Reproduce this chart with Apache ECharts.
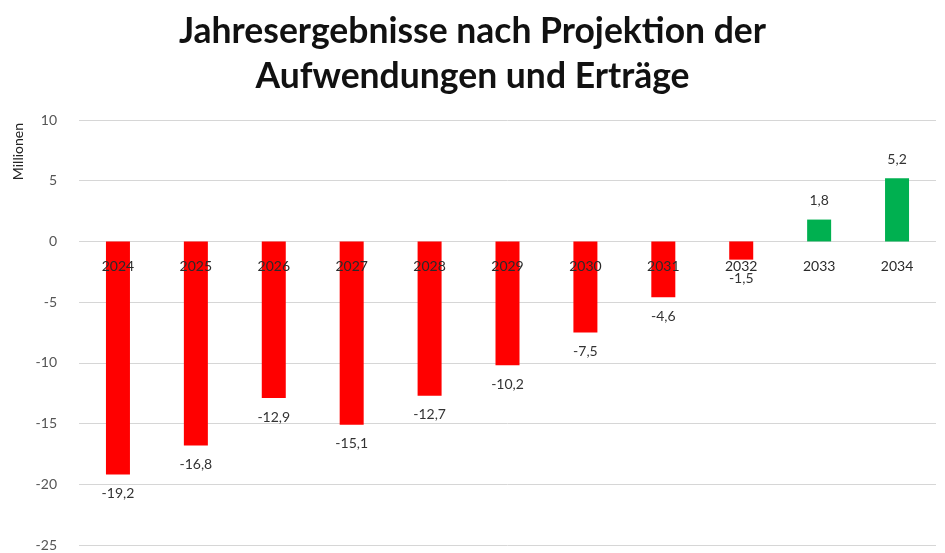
<!DOCTYPE html>
<html><head><meta charset="utf-8">
<script src="https://cdn.jsdelivr.net/npm/echarts@6/dist/echarts.min.js"></script>
<style>html,body{margin:0;padding:0;background:#fff}#c{width:945px;height:553px}</style>
</head><body><div id="c"></div>
<script>
const categories = ['2024','2025','2026','2027','2028','2029','2030','2031','2032','2033','2034'];
const values = [-19.2, -16.8, -12.9, -15.1, -12.7, -10.2, -7.5, -4.6, -1.5, 1.8, 5.2];
const titleText = 'Jahresergebnisse nach Projektion der\nAufwendungen und Erträge';
const yAxisName = 'Millionen';
const FONT = 'Lato, "Open Sans", sans-serif';

const chart = echarts.init(document.getElementById('c'));
chart.setOption({
  backgroundColor: '#fff',
  animation: false,
  title: {
    text: titleText, left: 'center', top: 4,
    textStyle: { fontFamily: FONT, fontWeight: 'bold', fontSize: 35.5, lineHeight: 45, color: '#111' }
  },
  graphic: [{
    type: 'text', left: 11, top: 123, rotation: Math.PI/2,
    style: { text: yAxisName, font: '14px ' + FONT, fill: '#222' }
  }],
  grid: { left: 79, right: 9, top: 120, bottom: 8, containLabel: false, outerBoundsMode: 'none' },
  xAxis: {
    type: 'category', data: categories,
    axisLine: { show: false }, axisTick: { show: false }, axisLabel: { show: false }
  },
  yAxis: {
    type: 'value', min: -25, max: 10, interval: 5,
    axisLine: { show: false }, axisTick: { show: false },
    axisLabel: { margin: 22, fontFamily: FONT, fontSize: 14, color: '#555' },
    splitLine: { lineStyle: { color: '#d6d6d6', width: 1 } }
  },
  series: [{
    type: 'bar', barWidth: 24, z: 2,
    data: values.map(v => ({
      value: v,
      itemStyle: { color: v < 0 ? '#ff0000' : '#00b050' },
      label: { position: v < 0 ? 'bottom' : 'top' }
    })),
    label: {
      show: true, distance: 12, fontFamily: FONT, fontSize: 14, color: '#333',
      formatter: p => String(p.value).replace('.', ',')
    }
  }, {
    type: 'scatter', z: 5, symbolSize: 0, silent: true,
    itemStyle: { opacity: 1 },
    data: categories.map(c => [c, 0]),
    label: {
      show: true, position: 'bottom', distance: 18, opacity: 1,
      fontFamily: FONT, fontSize: 14, color: '#2a2a2a', textBorderWidth: 0,
      formatter: p => p.value[0]
    }
  }]
});
</script></body></html>
